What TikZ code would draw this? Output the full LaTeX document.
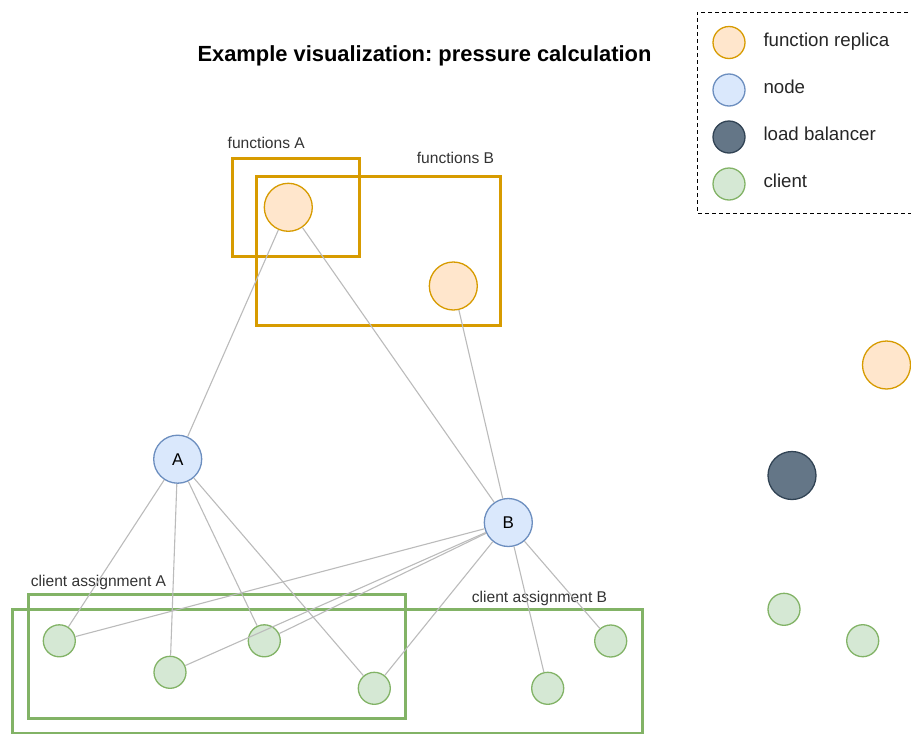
\documentclass[tikz,border=0pt]{standalone}
\usepackage{fontspec}
\setmainfont{Liberation Sans}
\frenchspacing

\definecolor{replicaFill}{HTML}{FFE6CC}
\definecolor{replicaLine}{HTML}{D79B00}
\definecolor{hostFill}{HTML}{DAE8FC}
\definecolor{hostLine}{HTML}{6C8EBF}
\definecolor{lbFill}{HTML}{647687}
\definecolor{lbLine}{HTML}{314354}
\definecolor{clientFill}{HTML}{D5E8D4}
\definecolor{clientLine}{HTML}{82B366}
\definecolor{edgeGray}{HTML}{BBBBBB}

\begin{document}
\begin{tikzpicture}[x=1pt, y=-1pt,
  replica/.style={circle, draw=replicaLine, fill=replicaFill, line width=1.3pt,
                  minimum size=48pt, inner sep=0pt},
  hostnode/.style={circle, draw=hostLine, fill=hostFill, line width=1.3pt,
                   minimum size=48pt, inner sep=0pt,
                   font=\fontsize{17}{19}\selectfont},
  balancer/.style={circle, draw=lbLine, fill=lbFill, line width=1.3pt,
                   minimum size=48pt, inner sep=0pt},
  clientdot/.style={circle, draw=clientLine, fill=clientFill, line width=1.3pt,
                    minimum size=32pt, inner sep=0pt},
  fgroup/.style={draw=replicaLine, line width=3pt},
  cgroup/.style={draw=clientLine, line width=3pt},
  link/.style={draw=edgeGray, line width=1.1pt},
  grouplabel/.style={anchor=base west, inner sep=0pt, text=black!80,
                     font=\fontsize{15.6}{18}\selectfont},
  legendlabel/.style={anchor=base west, inner sep=0pt, text=black!85,
                      font=\fontsize{18.7}{22}\selectfont},
  legenddot/.style={minimum size=32pt}
]
\useasboundingbox (0,0) rectangle (911,734);

% title
\node[anchor=base west, inner sep=0pt, font=\fontsize{21.9}{24}\selectfont\bfseries]
  (title) at (197.3,61.7) {Example visualization: pressure calculation};

% legend frame (open on the right edge)
\draw[line width=1pt, dash pattern=on 4pt off 3pt]
  (915,12) -- (697,12) -- (697,213) -- (915,213);
\node[replica,  legenddot] (lgRep)    at (729,42.5) {};
\node[hostnode, legenddot] (lgHost)   at (729,90)   {};
\node[balancer, legenddot] (lgLB)     at (729,137)  {};
\node[clientdot,legenddot] (lgClient) at (729,184)  {};
\node[legendlabel] (lgRepTxt)    at (763.3,46.5)  {function replica};
\node[legendlabel] (lgHostTxt)   at (763.3,93.5)  {node};
\node[legendlabel] (lgLBTxt)     at (763.3,140.5) {load balancer};
\node[legendlabel] (lgClientTxt) at (763.3,187.5) {client};

% function groups
\draw[fgroup] (232.7,158) rectangle (359,256.7);
\draw[fgroup] (256.5,176.7) rectangle (500.7,325);
\node[grouplabel] (fA) at (227.5,148.3) {functions A};
\node[grouplabel] (fB) at (416.7,163.3) {functions B};

% client groups
\draw[cgroup] (28,594) rectangle (405.7,718.3);
\draw[cgroup] (12.3,609.3) rectangle (642.3,733.5);
\node[grouplabel] (cA) at (30.7,586)   {client assignment A};
\node[grouplabel] (cB) at (471.7,602.3) {client assignment B};

% replicas, cluster nodes and clients
\node[replica] (r1) at (288.3,207.3) {};
\node[replica] (r2) at (453.3,286)   {};
\node[hostnode] (nA) at (177.7,459.2) {A};
\node[hostnode] (nB) at (508.3,522.5) {B};
\node[clientdot] (c1) at (59.3,640.8)  {};
\node[clientdot] (c2) at (170,672.3)   {};
\node[clientdot] (c3) at (264.3,640.8) {};
\node[clientdot] (c4) at (374.3,688.3) {};
\node[clientdot] (c5) at (547.7,688.3) {};
\node[clientdot] (c6) at (610.7,641)   {};

% unconnected items on the right
\node[replica]   (r3)  at (886.5,365)   {};
\node[balancer]  (lb)  at (792,475.5)   {};
\node[clientdot] (c7)  at (784,609.3)   {};
\node[clientdot] (c8)  at (862.7,640.7) {};

% connections
\path[link] (r1) -- (nA);
\path[link] (r1) -- (nB);
\path[link] (r2) -- (nB);
\foreach \c in {c1,c2,c3,c4} \path[link] (nA) -- (\c);
\foreach \c in {c1,c2,c3,c4,c5,c6} \path[link] (nB) -- (\c);
\end{tikzpicture}
\end{document}
